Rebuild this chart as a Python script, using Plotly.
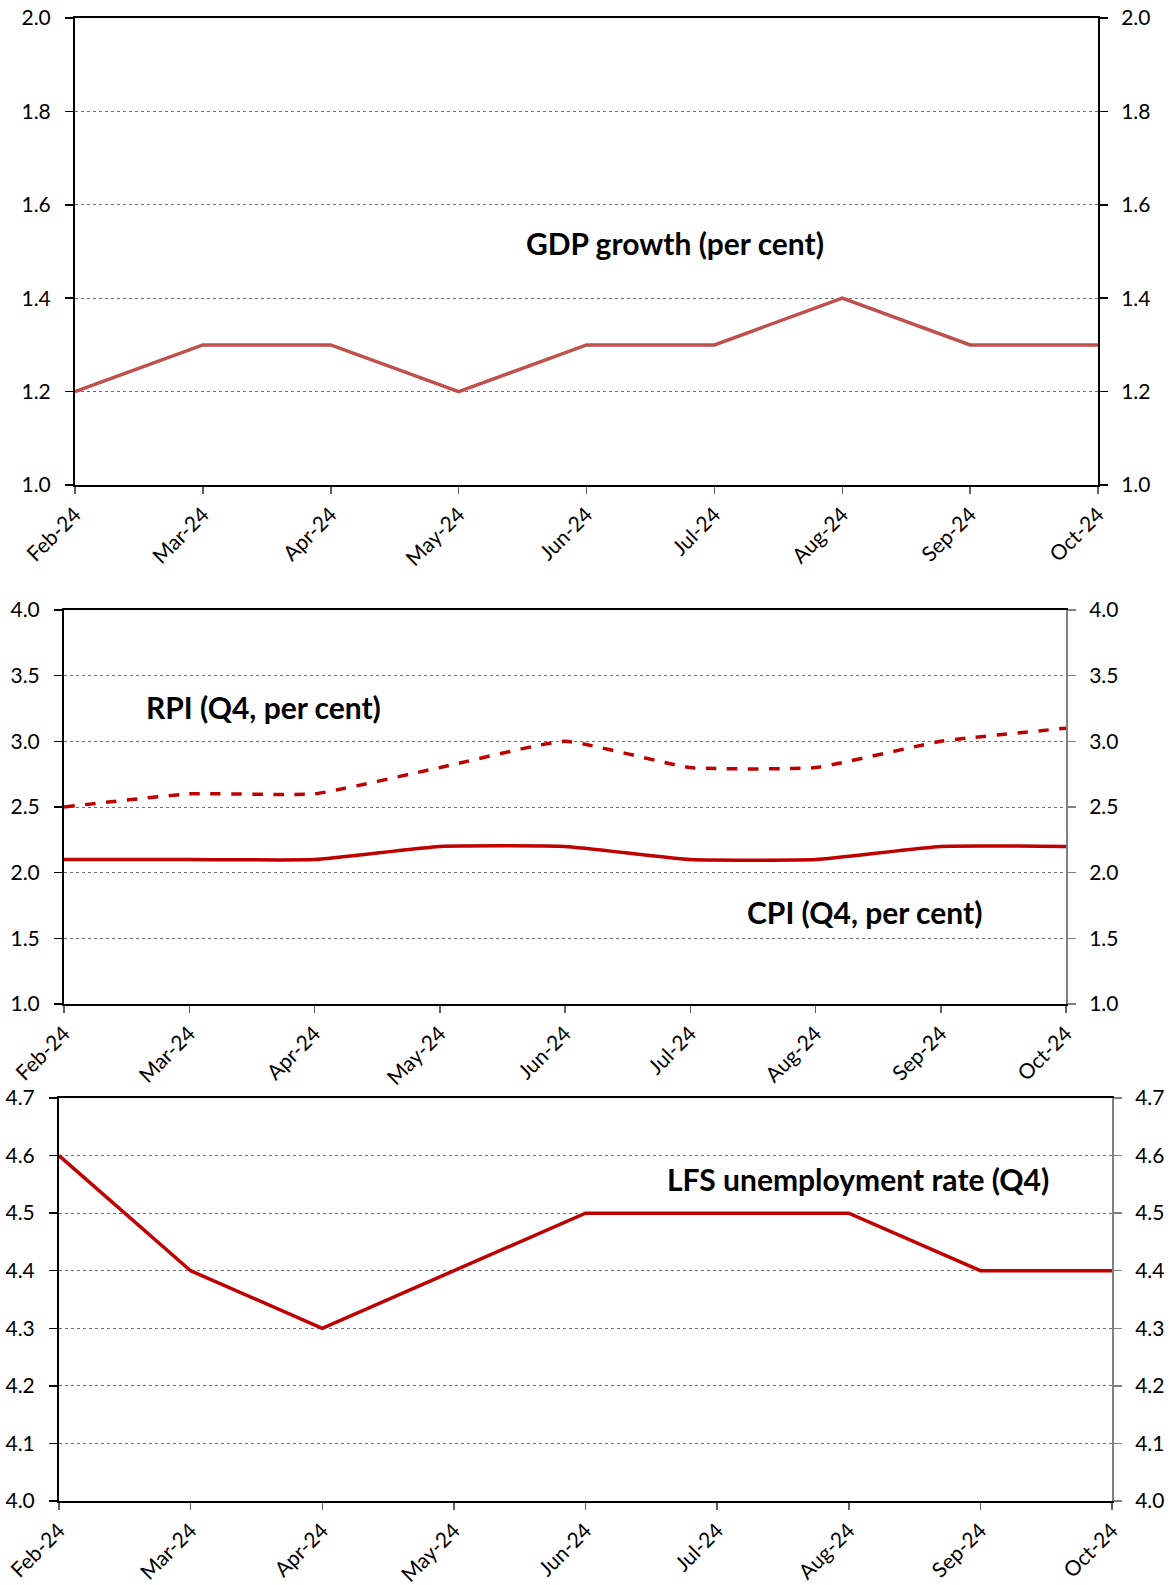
import plotly.graph_objects as go

months = ["Feb-24", "Mar-24", "Apr-24", "May-24", "Jun-24", "Jul-24", "Aug-24", "Sep-24", "Oct-24"]
gdp = [1.2, 1.3, 1.3, 1.2, 1.3, 1.3, 1.4, 1.3, 1.3]
rpi = [2.5, 2.6, 2.6, 2.8, 3.0, 2.8, 2.8, 3.0, 3.1]
cpi = [2.1, 2.1, 2.1, 2.2, 2.2, 2.1, 2.1, 2.2, 2.2]
lfs = [4.6, 4.4, 4.3, 4.4, 4.5, 4.5, 4.5, 4.4, 4.4]

W, H = 1172, 1585
FONT = "Lato"
xs = list(range(len(months)))

fig = go.Figure()

def px_x(p):
    return p / W

def px_y(p):
    return 1 - p / H

panels = [
    dict(left=75, right=1098, top=18, bottom=485, rng=[1.0, 2.0], dtick=0.2, rcol="black"),
    dict(left=64, right=1066, top=610, bottom=1004, rng=[1.0, 4.0], dtick=0.5, rcol="#808080"),
    dict(left=59, right=1112, top=1098, bottom=1501, rng=[4.0, 4.7], dtick=0.1, rcol="#808080"),
]

tickfont = dict(family=FONT, size=21, color="black")

for i, p in enumerate(panels):
    k = i + 1
    xa = "xaxis" if k == 1 else f"xaxis{k}"
    ya = "yaxis" if k == 1 else f"yaxis{k}"
    ya2 = f"yaxis{k + 3}"
    xd = [px_x(p["left"]), px_x(p["right"])]
    yd = [px_y(p["bottom"]), px_y(p["top"])]
    xref = "x" if k == 1 else f"x{k}"
    yref = "y" if k == 1 else f"y{k}"
    fig.update_layout(**{
        xa: dict(domain=xd, range=[0, 8], tickvals=xs, ticktext=months, tickangle=-45,
                 ticks="outside", ticklen=7, tickwidth=1.5, tickcolor="#606060",
                 showline=True, linecolor="black", linewidth=2, mirror=True,
                 showgrid=False, zeroline=False, tickfont=tickfont, anchor=yref,
                 automargin=False, fixedrange=True, ticklabeloverflow="allow"),
        ya: dict(domain=yd, range=p["rng"], dtick=p["dtick"], tick0=p["rng"][0],
                 tickformat=".1f", ticks="outside", ticklen=8, tickwidth=1.5, tickcolor="black",
                 showline=True, linecolor="black", linewidth=2,
                 showgrid=True, gridcolor="#6f6f6f", gridwidth=1, griddash="dot",
                 zeroline=False, tickfont=tickfont, anchor=xref, ticklabelstandoff=10,
                 automargin=False, ticklabeloverflow="allow", fixedrange=True),
        ya2: dict(domain=yd, range=p["rng"], dtick=p["dtick"], tick0=p["rng"][0],
                  tickformat=".1f", ticks="outside", ticklen=8, tickwidth=1.5, tickcolor=p["rcol"],
                  showline=True, linecolor=p["rcol"], linewidth=2,
                  showgrid=False, zeroline=False, tickfont=tickfont,
                  overlaying=yref, side="right", anchor=xref, ticklabelstandoff=9,
                  automargin=False, ticklabeloverflow="allow", fixedrange=True),
    })

fig.add_trace(go.Scatter(x=xs, y=gdp, mode="lines", line=dict(color="#C0504D", width=3.5),
                         xaxis="x", yaxis="y", showlegend=False))
fig.add_trace(go.Scatter(x=xs, y=gdp, mode="lines", line=dict(width=0), opacity=0,
                         xaxis="x", yaxis="y4", showlegend=False, hoverinfo="skip"))
fig.add_trace(go.Scatter(x=xs, y=rpi, mode="lines", line=dict(color="#C00000", width=3.5, dash="dash",
                         shape="spline", smoothing=0.4), xaxis="x2", yaxis="y2", showlegend=False))
fig.add_trace(go.Scatter(x=xs, y=cpi, mode="lines", line=dict(color="#C00000", width=3.5,
                         shape="spline", smoothing=0.4), xaxis="x2", yaxis="y2", showlegend=False))
fig.add_trace(go.Scatter(x=xs, y=cpi, mode="lines", line=dict(width=0), opacity=0,
                         xaxis="x2", yaxis="y5", showlegend=False, hoverinfo="skip"))
fig.add_trace(go.Scatter(x=xs, y=lfs, mode="lines", line=dict(color="#C00000", width=3.5),
                         xaxis="x3", yaxis="y3", showlegend=False))
fig.add_trace(go.Scatter(x=xs, y=lfs, mode="lines", line=dict(width=0), opacity=0,
                         xaxis="x3", yaxis="y6", showlegend=False, hoverinfo="skip"))

labfont = dict(family=FONT, size=30, color="black", weight="bold")
annots = [
    ("GDP growth (per cent)", 675, 243),
    ("RPI (Q4, per cent)", 263, 707),
    ("CPI (Q4, per cent)", 864, 912),
    ("LFS unemployment rate (Q4)", 858, 1179),
]
for text, ax, ay in annots:
    fig.add_annotation(text=text, x=px_x(ax), y=px_y(ay), xref="paper", yref="paper",
                       showarrow=False, font=labfont, xanchor="center", yanchor="middle")

fig.update_layout(width=W, height=H, margin=dict(l=0, r=0, t=0, b=0, autoexpand=False),
                  paper_bgcolor="white", plot_bgcolor="white", showlegend=False,
                  hovermode=False)

fig.write_html("out.html", config={"displayModeBar": False, "staticPlot": True},
               post_script="document.body.style.margin='0px';document.body.style.overflow='hidden';")
